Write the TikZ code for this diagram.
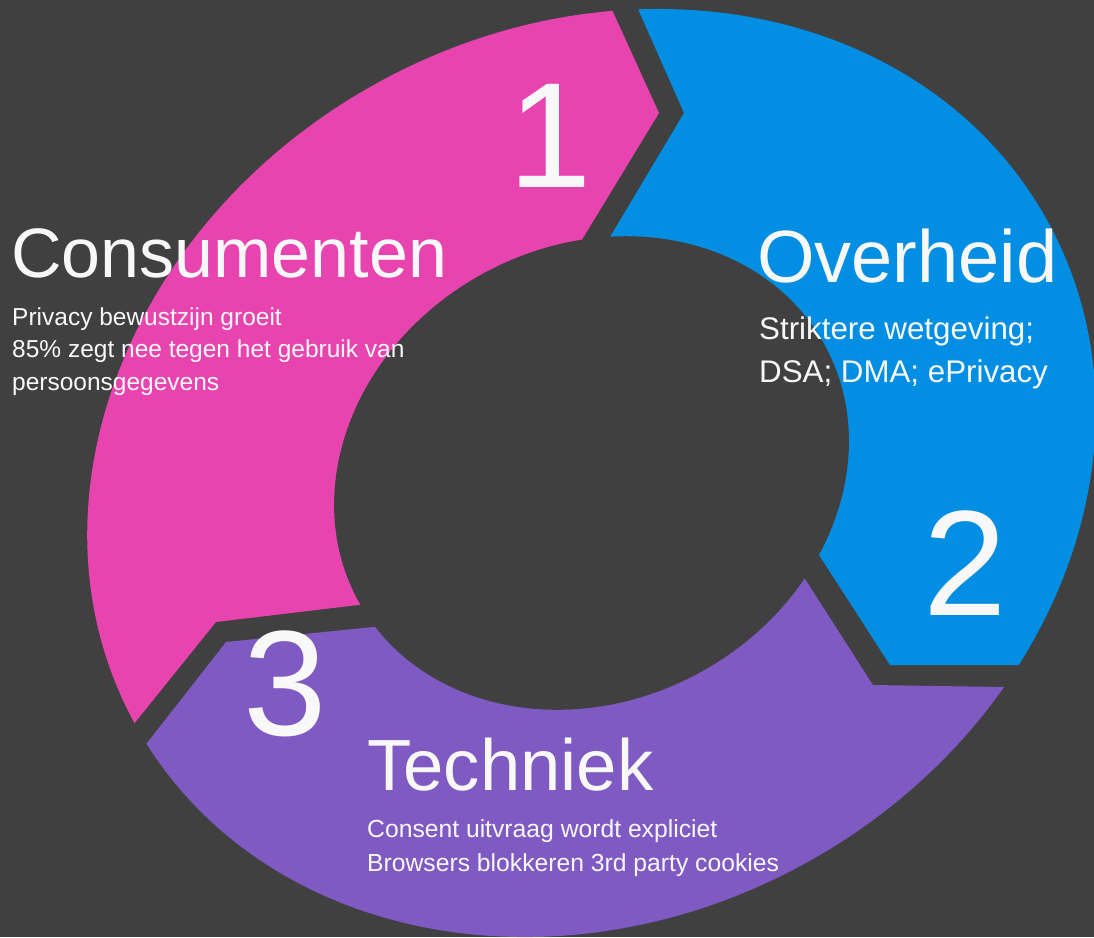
\documentclass[tikz,border=0pt]{standalone}
\usepackage{fontspec}
\setmainfont{Liberation Sans}

\definecolor{bgdark}{HTML}{404040}
\definecolor{segpink}{HTML}{E844B0}
\definecolor{segblue}{HTML}{028EE2}
\definecolor{segpurple}{HTML}{7F5AC3}
\definecolor{txtwhite}{HTML}{F8F8F8}

\begin{document}
\begin{tikzpicture}[
    x=1pt, y=-1pt,
    title/.style = {anchor=base west, inner sep=0pt, text=txtwhite,
                    font=\fontsize{70}{70}\selectfont},
    body/.style  = {anchor=base west, inner sep=0pt, text=txtwhite,
                    font=\fontsize{24.5}{24.5}\selectfont},
    num/.style   = {anchor=base, inner sep=0pt, text=txtwhite,
                    font=\fontsize{150}{150}\selectfont}
  ]

    %% ---- background ----
    \fill[bgdark] (0,0) rectangle (1094,937);
    \useasboundingbox (0,0) rectangle (1094,937);
    \coordinate (ctr) at (591.5,473);

    %% ---- ring segments, cut by the outer ellipse ----
    \begin{scope}
      \clip[rotate around={29:(ctr)}] (ctr) ellipse [x radius=521pt, y radius=445pt];

      % segment 1 (pink)
      \fill[segpink] (500,588) -- (358,605) -- (216,622) -- (133,725) -- (50,828)
        -- (-200,900) -- (-200,-200) -- (567,-89) -- (613,12) -- (659,113)
        -- (583,238) -- (507,363) -- (ctr) -- cycle;

      % segment 2 (blue)
      \fill[segblue] (ctr) -- (536,361) -- (610,237) -- (684,113) -- (638,9)
        -- (592,-95) -- (1300,-200) -- (1300,665) -- (1018,665) -- (890,665)
        -- (819,555) -- (748,445) -- cycle;

      % segment 3 (purple)
      \fill[segpurple] (ctr) -- (737,473) -- (805,579) -- (873,685) -- (1002,687)
        -- (1131,689) -- (1300,1100) -- (-200,1100) -- (68,844) -- (147,743)
        -- (226,642) -- (373,627) -- (520,612) -- cycle;
    \end{scope}

    %% ---- hole in the middle ----
    \fill[bgdark, rotate around={29:(ctr)}] (ctr) ellipse [x radius=266pt, y radius=227pt];

    %% ---- numbers ----
    \node[num] (numA) at (550,187) {1};
    \node[num] (numB) at (965,615) {2};
    \node[num] (numC) at (285,735) {3};

    %% ---- Consumenten ----
    \node[title] (consTitle) at (11,277) {Consumenten};
    \node[body]  (consA) at (12,325)   {Privacy bewustzijn groeit};
    \node[body]  (consB) at (12,357.5) {85\% zegt nee tegen het gebruik van};
    \node[body]  (consC) at (12,390)   {persoonsgegevens};

    %% ---- Overheid ----
    \node[title, font=\fontsize{74}{74}\selectfont] (govTitle) at (757,282) {Overheid};
    \node[body, font=\fontsize{31.3}{31.3}\selectfont] (govA) at (759,339) {Striktere wetgeving;};
    \node[body, font=\fontsize{31.3}{31.3}\selectfont] (govB) at (759,382) {DSA; DMA; ePrivacy};

    %% ---- Techniek ----
    \node[title, font=\fontsize{72.5}{72.5}\selectfont] (techTitle) at (367,790) {Techniek};
    \node[body, font=\fontsize{24.7}{24.7}\selectfont] (techA) at (367,837) {Consent uitvraag wordt expliciet};
    \node[body, font=\fontsize{24.7}{24.7}\selectfont] (techB) at (367,871) {Browsers blokkeren 3rd party cookies};
  \end{tikzpicture}
\end{document}
